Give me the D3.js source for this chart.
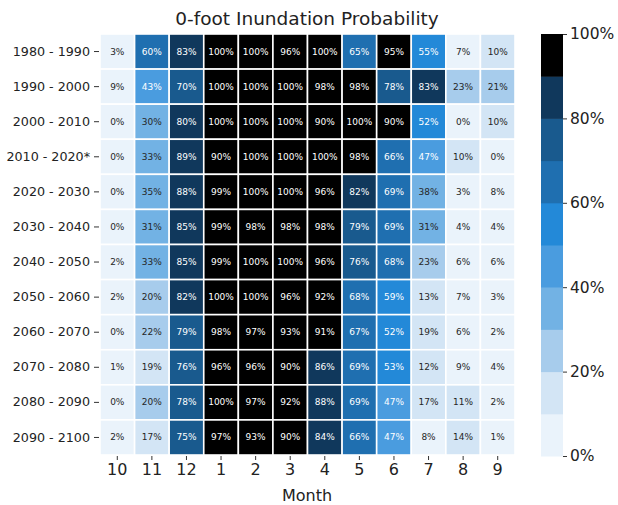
<!DOCTYPE html>
<html><head><meta charset="utf-8">
<script src="https://cdn.jsdelivr.net/npm/d3@7"></script>
<style>body{margin:0;background:#fff;} text{font-family:"DejaVu Sans",sans-serif;}</style>
</head><body>
<svg id="chart" width="618" height="505"></svg>
<script>
const months = ["10","11","12","1","2","3","4","5","6","7","8","9"];
const periods = ["1980 - 1990","1990 - 2000","2000 - 2010","2010 - 2020*","2020 - 2030","2030 - 2040","2040 - 2050","2050 - 2060","2060 - 2070","2070 - 2080","2080 - 2090","2090 - 2100"];
const values = [
  [3,60,83,100,100,96,100,65,95,55,7,10],
  [9,43,70,100,100,100,98,98,78,83,23,21],
  [0,30,80,100,100,100,90,100,90,52,0,10],
  [0,33,89,90,100,100,100,98,66,47,10,0],
  [0,35,88,99,100,100,96,82,69,38,3,8],
  [0,31,85,99,98,98,98,79,69,31,4,4],
  [2,33,85,99,100,100,96,76,68,23,6,6],
  [2,20,82,100,100,96,92,68,59,13,7,3],
  [0,22,79,98,97,93,91,67,52,19,6,2],
  [1,19,76,96,96,90,86,69,53,12,9,4],
  [0,20,78,100,97,92,88,69,47,17,11,2],
  [2,17,75,97,93,90,84,66,47,8,14,1]
];
const binEdges = [10,20,30,40,50,60,70,80,90];
const binColors = ["#eaf3fb","#d3e5f5","#a7ccec","#72b2e4","#4a9cdf","#2389d8","#1f6fb0","#195a8e","#10385c","#000000"];
const cbTicks = [0,20,40,60,80,100];
const title = "0-foot Inundation Probability";
const xTitle = "Month";

const svg = d3.select("#chart");
const L = 100, R = 515, T = 34, B = 455;
const x = d3.scaleBand().domain(months).range([L, R]);
const y = d3.scaleBand().domain(periods).range([T, B]);
const color = d3.scaleThreshold().domain(binEdges).range(binColors);

const cells = [];
periods.forEach((p, i) => months.forEach((m, j) => cells.push({p, m, v: values[i][j]})));

const g = svg.append("g");
g.selectAll("rect.cell").data(cells).enter().append("rect")
  .attr("class","cell")
  .attr("x", d => x(d.m)).attr("y", d => y(d.p))
  .attr("width", x.bandwidth()).attr("height", y.bandwidth())
  .attr("fill", d => color(d.v))
  .attr("stroke", "#fff").attr("stroke-width", 1.6);

g.selectAll("text.val").data(cells).enter().append("text")
  .attr("class","val")
  .attr("x", d => x(d.m) + x.bandwidth()/2)
  .attr("y", d => y(d.p) + y.bandwidth()/2)
  .attr("text-anchor","middle").attr("dominant-baseline","central")
  .attr("font-size", 9)
  .attr("fill", d => d.v >= 40 ? "#ffffff" : "#262626")
  .text(d => d.v + "%");

// axes
const xAxis = svg.append("g").attr("transform", `translate(0,${B+1})`)
  .call(d3.axisBottom(x).tickSize(4).tickPadding(4));
xAxis.select(".domain").remove();
xAxis.selectAll("text").attr("font-size", 16).attr("fill","#222").attr("font-family","DejaVu Sans");
xAxis.selectAll("line").attr("stroke","#333");

const yAxis = svg.append("g").attr("transform", `translate(${L-1},0)`)
  .call(d3.axisLeft(y).tickSize(5).tickPadding(4));
yAxis.select(".domain").remove();
yAxis.selectAll("text").attr("font-size", 12.7).attr("fill","#222").attr("font-family","DejaVu Sans");
yAxis.selectAll("line").attr("stroke","#333");

svg.append("text").attr("x", 307).attr("y", 25).attr("text-anchor","middle")
  .attr("font-size", 18.5).attr("fill","#222").text(title);
svg.append("text").attr("x", 307).attr("y", 501).attr("text-anchor","middle")
  .attr("font-size", 16).attr("fill","#222").text(xTitle);

// colorbar
const cbX = 541, cbW = 22, cbT = 34, cbB = 456;
const cy = d3.scaleLinear().domain([0,100]).range([cbB, cbT]);
const bins = binColors.map((c,i) => ({lo: i===0?0:binEdges[i-1], hi: i===binColors.length-1?100:binEdges[i], c}));
svg.append("g").selectAll("rect").data(bins).enter().append("rect")
  .attr("x", cbX).attr("width", cbW)
  .attr("y", d => cy(d.hi)).attr("height", d => cy(d.lo) - cy(d.hi) + 0.5)
  .attr("fill", d => d.c);
const cbAxis = svg.append("g").attr("transform", `translate(${cbX+cbW},0)`)
  .call(d3.axisRight(cy).tickValues(cbTicks).tickFormat(d => d + "%").tickSize(4).tickPadding(3));
cbAxis.select(".domain").remove();
cbAxis.selectAll("text").attr("font-size", 15.5).attr("fill","#222").attr("font-family","DejaVu Sans");
cbAxis.selectAll("line").attr("stroke","#333");
</script>
</body></html>
